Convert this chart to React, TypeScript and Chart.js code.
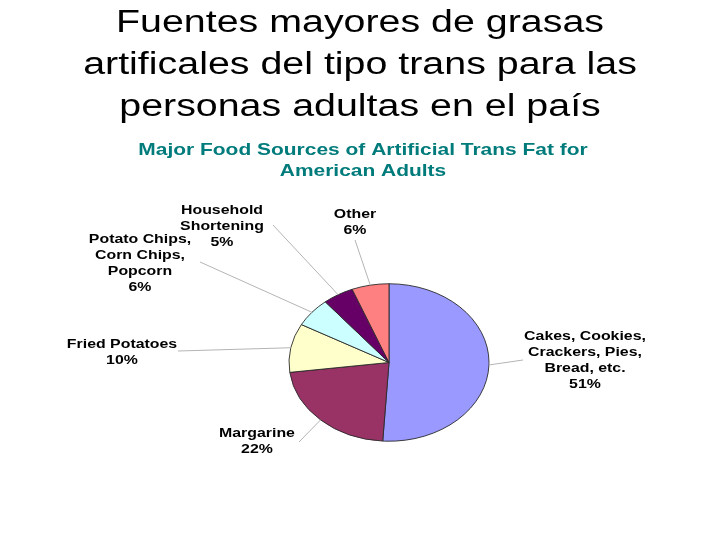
import React, { useEffect, useRef } from "react";
import { Chart, registerables } from "chart.js";

Chart.register(...registerables);

const titleLines = [
  "Fuentes mayores de grasas",
  "artificales del tipo trans para las",
  "personas adultas en el país",
];
const subtitleLines = ["Major Food Sources of Artificial Trans Fat for", "American Adults"];
const categories = [
  "Cakes, Cookies, Crackers, Pies, Bread, etc.",
  "Margarine",
  "Fried Potatoes",
  "Potato Chips, Corn Chips, Popcorn",
  "Household Shortening",
  "Other",
];
const categoryLines = [
  ["Cakes, Cookies,", "Crackers, Pies,", "Bread, etc."],
  ["Margarine"],
  ["Fried Potatoes"],
  ["Potato Chips,", "Corn Chips,", "Popcorn"],
  ["Household", "Shortening"],
  ["Other"],
];
const values = [51, 22, 10, 6, 5, 6];
const colors = ["#9999FF", "#993366", "#FFFFCC", "#CCFFFF", "#660066", "#FF8080"];

// layout: label centre x, first baseline y, leader anchor on label side
const labelLayout = [
  { x: 585, y: 340, ax: 523, ay: 360 },
  { x: 257, y: 437, ax: 299, ay: 442 },
  { x: 122, y: 348, ax: 178, ay: 351 },
  { x: 140, y: 243, ax: 200, ay: 262 },
  { x: 222, y: 214, ax: 273, ay: 225 },
  { x: 355, y: 218, ax: 355, ay: 240 },
];

const SX = 1.27; // horizontal stretch of the picture
const SY = 1 / SX;

function stretchedText(ctx: CanvasRenderingContext2D, text: string, x: number, y: number, font: string, color: string) {
  ctx.save();
  ctx.translate(x, y);
  ctx.scale(SX, 1);
  ctx.font = font;
  ctx.fillStyle = color;
  ctx.textAlign = "center";
  ctx.textBaseline = "alphabetic";
  ctx.fillText(text, 0, 0);
  ctx.restore();
}

const ellipsePlugin = {
  id: "ellipse",
  beforeDatasetsDraw(chart: any) {
    const arc = chart.getDatasetMeta(0).data[0];
    const ctx = chart.ctx;
    ctx.save();
    ctx.translate(arc.x, arc.y);
    ctx.scale(1, SY);
    ctx.translate(-arc.x, -arc.y);
  },
  afterDatasetsDraw(chart: any) {
    chart.ctx.restore();
  },
};

const textPlugin = {
  id: "texts",
  afterDraw(chart: any) {
    const ctx: CanvasRenderingContext2D = chart.ctx;
    const titleFont = '31px "Liberation Sans", Arial, sans-serif';
    titleLines.forEach((t, i) => stretchedText(ctx, t, 360, 32 + i * 42, titleFont, "#000000"));
    const subFont = 'bold 16.5px "Liberation Sans", Arial, sans-serif';
    subtitleLines.forEach((t, i) => stretchedText(ctx, t, 363, 155 + i * 21, subFont, "#007b7b"));

    const meta = chart.getDatasetMeta(0);
    const labFont = 'bold 12.5px "Liberation Sans", Arial, sans-serif';
    meta.data.forEach((arc: any, i: number) => {
      const p = arc.getProps(["x", "y", "startAngle", "endAngle", "outerRadius"], true);
      const mid = (p.startAngle + p.endAngle) / 2;
      const ex = p.x + p.outerRadius * Math.cos(mid);
      const ey = p.y + p.outerRadius * Math.sin(mid) * SY;
      const L = labelLayout[i];
      ctx.save();
      ctx.strokeStyle = "#b4b4b4";
      ctx.lineWidth = 1;
      ctx.beginPath();
      ctx.moveTo(L.ax, L.ay);
      ctx.lineTo(ex, ey);
      ctx.stroke();
      ctx.restore();
      const lines = [...categoryLines[i], values[i] + "%"];
      lines.forEach((t, k) => stretchedText(ctx, t, L.x, L.y + k * 16, labFont, "#000000"));
    });
  },
};

export default function App() {
  const ref = useRef<HTMLCanvasElement | null>(null);
  useEffect(() => {
    if (!ref.current) return;
    const chart = new Chart(ref.current, {
      type: "pie",
      data: {
        labels: categories,
        datasets: [
          {
            data: values,
            backgroundColor: colors,
            borderColor: "#2a2a2a",
            borderWidth: 1,
          },
        ],
      },
      options: {
        responsive: false,
        animation: false,
        layout: { padding: { left: 288.5, right: 230.5, top: 262, bottom: 77 } },
        plugins: { legend: { display: false }, tooltip: { enabled: false }, title: { display: false } },
      },
      plugins: [ellipsePlugin, textPlugin],
    });
    return () => chart.destroy();
  }, []);
  return (
    <div style={{ position: "absolute", left: 0, top: 0, width: 720, height: 540, background: "#fff" }}>
      <canvas ref={ref} width={720} height={540} />
    </div>
  );
}
